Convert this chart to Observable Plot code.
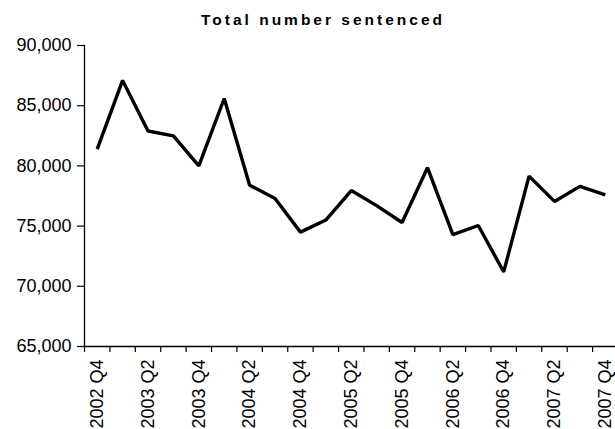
<!DOCTYPE html>
<html>
<head>
<meta charset="utf-8">
<script src="https://cdn.jsdelivr.net/npm/d3@7"></script>
<script src="https://cdn.jsdelivr.net/npm/@observablehq/plot@0.6"></script>
<style>
  html, body { margin: 0; padding: 0; background: #fff; }
  #wrap { position: relative; width: 615px; height: 429px; overflow: hidden; }
  #title { position: absolute; left: 0; top: 12px; width: 646px; text-align: center;
           font: bold 15.5px "Liberation Sans", Arial, sans-serif; line-height: 15px;
           letter-spacing: 3px; color: #000; }
  #chart { position: absolute; left: 0; top: 30px; }
</style>
</head>
<body>
<div id="wrap">
  <div id="title">Total number sentenced</div>
  <div id="chart"></div>
</div>
<script>
const quarters = [
  "2002 Q4","2003 Q1","2003 Q2","2003 Q3","2003 Q4",
  "2004 Q1","2004 Q2","2004 Q3","2004 Q4",
  "2005 Q1","2005 Q2","2005 Q3","2005 Q4",
  "2006 Q1","2006 Q2","2006 Q3","2006 Q4",
  "2007 Q1","2007 Q2","2007 Q3","2007 Q4"
];
const sentenced = [
  81400, 87100, 82900, 82500, 80000,
  85600, 78400, 77300, 74500,
  75500, 77950, 76700, 75300,
  79850, 74300, 75050, 71200,
  79150, 77050, 78300, 77600
];
const tickLabels = ["2002 Q4","2003 Q2","2003 Q4","2004 Q2","2004 Q4","2005 Q2",
                    "2005 Q4","2006 Q2","2006 Q4","2007 Q2","2007 Q4"];
const yTicks = [65000, 70000, 75000, 80000, 85000, 90000];

const data = quarters.map((q, i) => ({i, q, v: sentenced[i]}));
const boundaries = d3.range(quarters.length + 1).map(k => k - 0.5);
const labelIdx = tickLabels.map(l => quarters.indexOf(l));

const font = '"Liberation Sans", Arial, sans-serif';

const plot = Plot.plot({
  width: 615,
  height: 399,
  marginTop: 15,
  marginBottom: 83,
  marginLeft: 84,
  marginRight: 0,
  style: {fontFamily: font, color: "#000", background: "#fff"},
  x: {type: "linear", domain: [-0.5, quarters.length - 0.5], range: [84, 617.5]},
  y: {domain: [65000, 90000]},
  marks: [
    Plot.ruleX([-0.5], {stroke: "#000", strokeWidth: 1.3}),
    Plot.ruleY([65000], {stroke: "#000", strokeWidth: 1.3}),
    Plot.axisY({ticks: yTicks, tickSize: 7, tickPadding: 6, tickFormat: d3.format(","),
                fontSize: 18, label: null, stroke: "#000", strokeWidth: 1.2}),
    Plot.axisX({ticks: boundaries, tickSize: 6, text: null, label: null,
                stroke: "#000", strokeWidth: 1.2}),
    Plot.axisX({ticks: labelIdx, tickSize: 0, tickPadding: 13, tickRotate: -90,
                tickFormat: i => quarters[i], fontSize: 18, label: null}),
    Plot.line(data, {x: "i", y: "v", stroke: "#000", strokeWidth: 3.4,
                     strokeLinejoin: "miter", strokeLinecap: "butt"})
  ]
});
document.getElementById("chart").appendChild(plot);
</script>
</body>
</html>
